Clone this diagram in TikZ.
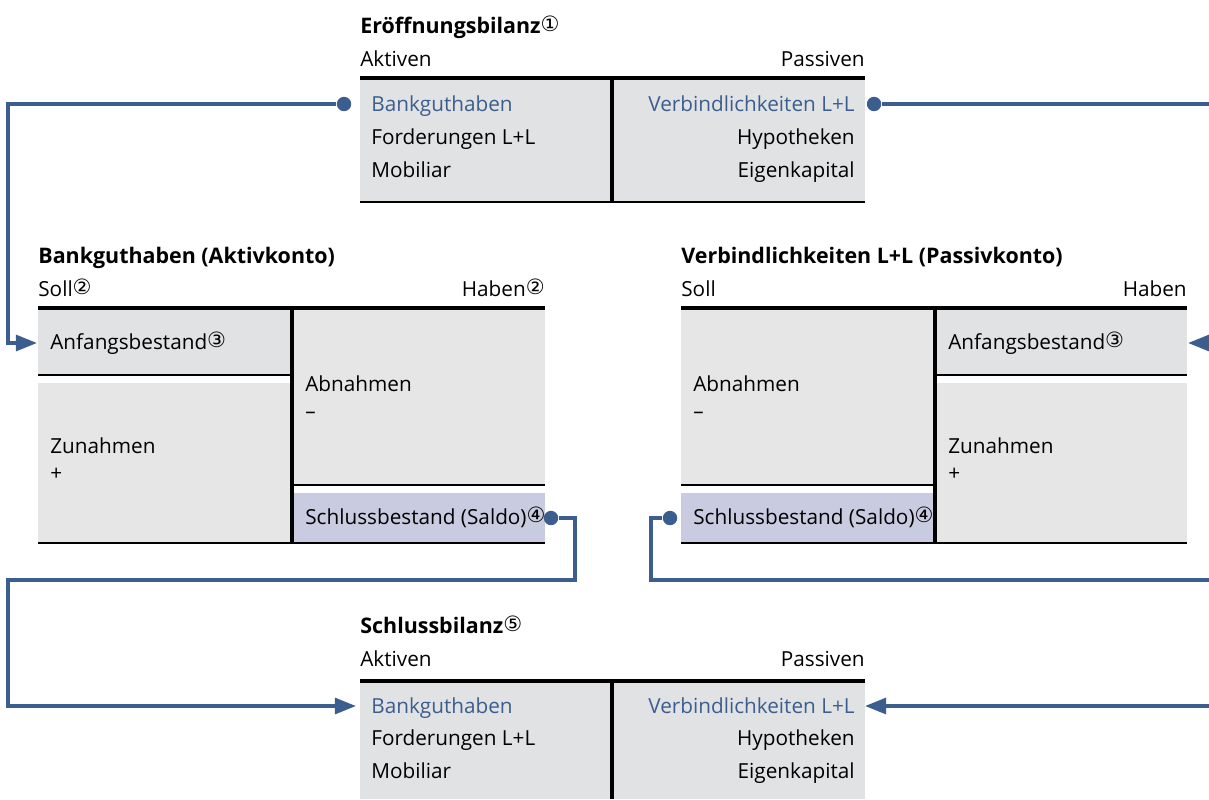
\documentclass[tikz,border=0pt]{standalone}
\usepackage{fontspec}
\setmainfont{Open Sans}
\newfontfamily\kreisfont{DejaVu Sans}
\usetikzlibrary{arrows.meta}
\usetikzlibrary{positioning}

\definecolor{linie}{HTML}{3B5E8E}
\definecolor{feldA}{HTML}{E1E2E4}
\definecolor{feldB}{HTML}{E6E6E6}
\definecolor{saldo}{HTML}{C9CCE0}

\newcommand{\nr}[1]{{\kreisfont\mdseries\fontsize{12}{12}\selectfont\raisebox{0.15ex}{#1}}}

\tikzset{
  posten/.style={inner sep=0pt, anchor=base west, font=\fontsize{11.8}{14}\selectfont},
  rposten/.style={posten, anchor=base east},
  titel/.style={inner sep=0pt, anchor=base west, font=\fontsize{12.2}{14}\selectfont\bfseries},
  dick/.style={line width=2.2pt},
  duenn/.style={line width=1pt},
  verbindung/.style={linie, line width=2pt, -{Triangle[length=12pt,width=9pt]}},
  punkt/.style={circle, fill=linie, inner sep=0pt, minimum size=8.2pt}
}

\begin{document}
\begin{tikzpicture}[x=0.02cm, y=-0.02cm]

\useasboundingbox (0,0) rectangle (1209,799);

% Eroeffnungsbilanz
\fill[feldA] (360,80) rectangle (865,202);
\draw[dick] (360,78) -- (865,78);
\draw[dick] (612,78) -- (612,202);
\draw[duenn] (360,202) -- (865,202);
\node[titel] (eb-titel) at (360,33) {Eröffnungsbilanz\nr{①}};
\node[posten] (eb-akt) at (360,66) {Aktiven};
\node[rposten] (eb-pas) at (865,66) {Passiven};
\node[posten, text=linie] (eb-bank) at (371,111) {Bankguthaben};
\node[posten] (eb-ford) at (371,144) {Forderungen L+L};
\node[posten] (eb-mob) at (371,177) {Mobiliar};
\node[rposten, text=linie] (eb-verb) at (855,111) {Verbindlichkeiten L+L};
\node[rposten] (eb-hypo) at (855,144) {Hypotheken};
\node[rposten] (eb-ek) at (855,177) {Eigenkapital};

% Aktivkonto
\fill[feldA] (38,310) rectangle (290,374);
\fill[feldB] (38,383) rectangle (290,543);
\fill[feldB] (294,310) rectangle (545,484);
\fill[saldo] (294,493) rectangle (545,543);
\draw[dick] (38,308) -- (545,308);
\draw[dick] (292,308) -- (292,543);
\draw[duenn] (38,375) -- (290,375);
\draw[duenn] (294,485) -- (545,485);
\draw[duenn] (38,543) -- (545,543);
\node[titel] (ak-titel) at (38,263) {Bankguthaben (Aktivkonto)};
\node[posten] (ak-soll) at (38,296) {Soll\nr{②}};
\node[rposten] (ak-haben) at (545,296) {Haben\nr{②}};
\node[posten] (ak-anf) at (50,349) {Anfangsbestand\nr{③}};
\node[posten] (ak-zu) at (50,453) {Zunahmen};
\node[posten] (ak-plus) at (50,480) {+};
\node[posten] (ak-ab) at (305,391) {Abnahmen};
\node[posten] (ak-minus) at (305,418) {–};
\node[posten] (ak-saldo) at (305,524) {Schlussbestand (Saldo)\nr{④}};

% Passivkonto
\fill[feldB] (681,310) rectangle (933,484);
\fill[saldo] (681,493) rectangle (933,543);
\fill[feldA] (937,310) rectangle (1187,374);
\fill[feldB] (937,383) rectangle (1187,543);
\draw[dick] (681,308) -- (1187,308);
\draw[dick] (935,308) -- (935,543);
\draw[duenn] (681,485) -- (933,485);
\draw[duenn] (937,375) -- (1187,375);
\draw[duenn] (681,543) -- (1187,543);
\node[titel] (pk-titel) at (681,263) {Verbindlichkeiten L+L (Passivkonto)};
\node[posten] (pk-soll) at (681,296) {Soll};
\node[rposten] (pk-haben) at (1187,296) {Haben};
\node[posten] (pk-ab) at (693,391) {Abnahmen};
\node[posten] (pk-minus) at (693,418) {–};
\node[posten] (pk-saldo) at (693,524) {Schlussbestand (Saldo)\nr{④}};
\node[posten] (pk-anf) at (948,349) {Anfangsbestand\nr{③}};
\node[posten] (pk-zu) at (948,453) {Zunahmen};
\node[posten] (pk-plus) at (948,480) {+};

% Schlussbilanz
\fill[feldA] (360,683) rectangle (865,799);
\draw[dick] (360,681) -- (865,681);
\draw[dick] (612,681) -- (612,799);
\node[titel] (sb-titel) at (360,633) {Schlussbilanz\nr{⑤}};
\node[posten] (sb-akt) at (360,666) {Aktiven};
\node[rposten] (sb-pas) at (865,666) {Passiven};
\node[posten, text=linie] (sb-bank) at (371,713) {Bankguthaben};
\node[posten] (sb-ford) at (371,745) {Forderungen L+L};
\node[posten] (sb-mob) at (371,778) {Mobiliar};
\node[rposten, text=linie] (sb-verb) at (855,713) {Verbindlichkeiten L+L};
\node[rposten] (sb-hypo) at (855,745) {Hypotheken};
\node[rposten] (sb-ek) at (855,778) {Eigenkapital};

% Punkte und Pfeilziele
\node[punkt] (eb-dotL) at (344,104) {};
\node[punkt] (eb-dotR) at (874,104) {};
\node[punkt] (ak-dot) at (551,518) {};
\node[punkt] (pk-dot) at (670,518) {};
\coordinate (ak-ziel) at (37,343);
\coordinate (pk-ziel) at (1188,343);
\coordinate (sb-zielL) at (356,706);
\coordinate (sb-zielR) at (865,706);

% Verbindungen
\draw[verbindung] (eb-dotL) -| (8,343) -- (ak-ziel);
\draw[verbindung] (eb-dotR) -| (1230,343) -- (pk-ziel);
\draw[verbindung] (ak-dot) -| (575,580) -| (8,706) -- (sb-zielL);
\draw[verbindung] (pk-dot) -| (651,580) -| (1230,706) -- (sb-zielR);

\end{tikzpicture}
\end{document}
